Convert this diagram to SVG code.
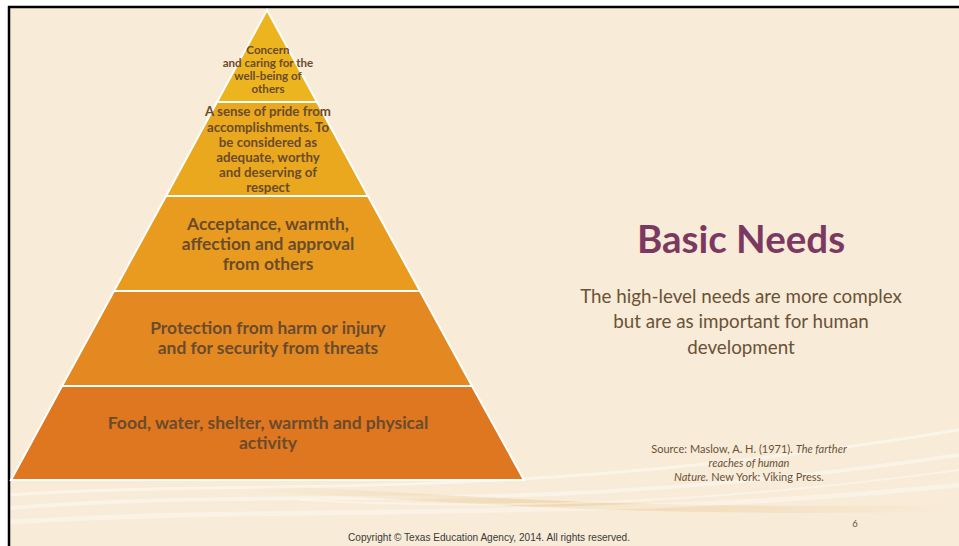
<svg xmlns="http://www.w3.org/2000/svg" width="959" height="546" viewBox="0 0 959 546">
<defs>
<style>
.lbl{font-family:Lato,"Open Sans","Liberation Sans",sans-serif;font-weight:bold;fill:#6A4B2C;text-anchor:middle}
.body{font-family:Lato,"Open Sans","Liberation Sans",sans-serif;fill:#6A5238;text-anchor:middle}
.layer{stroke:#FFFFFF;stroke-width:2}
</style>
<linearGradient id="band" x1="0" y1="0" x2="1" y2="0">
<stop offset="0" stop-color="#EBCB98" stop-opacity="0"/>
<stop offset="0.45" stop-color="#EBCB98" stop-opacity="0.6"/>
<stop offset="1" stop-color="#EBCB98" stop-opacity="0"/>
</linearGradient>
</defs>
<rect x="0" y="0" width="959" height="546" fill="#FFFFFF"/>
<rect x="9" y="7" width="950" height="539" fill="#F8EBD7"/>
<g id="swooshes" fill="none">
<path d="M9,495 C250,478 500,505 959,430" stroke="#FFFFFF" stroke-opacity="0.45" stroke-width="3"/>
<path d="M9,508 C300,485 520,520 959,455" stroke="#FFFFFF" stroke-opacity="0.4" stroke-width="4"/>
<path d="M250,488 C420,495 600,515 959,508" stroke="url(#band)" stroke-width="7"/>
<path d="M9,522 C300,505 600,522 959,485" stroke="#FFFFFF" stroke-opacity="0.35" stroke-width="5"/>
<path d="M300,500 C500,510 700,505 959,470" stroke="#FFFFFF" stroke-opacity="0.4" stroke-width="2"/>
</g>
<line x1="8" y1="7" x2="959" y2="7" stroke="#000000" stroke-width="2.5"/>
<line x1="9" y1="6" x2="9" y2="546" stroke="#000000" stroke-width="2.5"/>
<g id="layer1">
<polygon class="layer" points="267,10 317,102 217,102" fill="#ECB51F"/>
<text class="lbl" font-size="11.6"><tspan x="268" y="54">Concern</tspan><tspan x="268" y="67">and caring for the</tspan><tspan x="268" y="80">well-being of</tspan><tspan x="268" y="93">others</tspan></text>
</g>
<g id="layer2">
<polygon class="layer" points="217,102 317,102 368,196 166,196" fill="#E9A81D"/>
<text class="lbl" font-size="13.3"><tspan x="268" y="116">A sense of pride from</tspan><tspan x="268" y="132">accomplishments. To</tspan><tspan x="268" y="147">be considered as</tspan><tspan x="268" y="162">adequate, worthy</tspan><tspan x="268" y="177">and deserving of</tspan><tspan x="268" y="192">respect</tspan></text>
</g>
<g id="layer3">
<polygon class="layer" points="166,196 368,196 420,291 114,291" fill="#E89B1F"/>
<text class="lbl" font-size="17.4"><tspan x="268" y="230">Acceptance, warmth,</tspan><tspan x="268" y="250">affection and approval</tspan><tspan x="268" y="270">from others</tspan></text>
</g>
<g id="layer4">
<polygon class="layer" points="114,291 420,291 472,386 62,386" fill="#E48922"/>
<text class="lbl" font-size="17.4"><tspan x="268" y="334">Protection from harm or injury</tspan><tspan x="268" y="354">and for security from threats</tspan></text>
</g>
<g id="layer5">
<polygon class="layer" points="62,386 472,386 524,480 11,480" fill="#DF7620"/>
<text class="lbl" font-size="17.5"><tspan x="268" y="429">Food, water, shelter, warmth and physical</tspan><tspan x="268" y="449">activity</tspan></text>
</g>
<g id="title">
<text x="741" y="253" font-family="Lato,'Open Sans','Liberation Sans',sans-serif" font-weight="bold" font-size="38.5" fill="#7B3961" text-anchor="middle">Basic Needs</text>
</g>
<g id="subtitle">
<text class="body" font-size="18.8"><tspan x="741" y="303">The high-level needs are more complex</tspan><tspan x="741" y="328">but are as important for human</tspan><tspan x="741" y="354">development</tspan></text>
</g>
<g id="source">
<text class="body" font-size="11"><tspan x="749" y="453">Source: Maslow, A. H. (1971). <tspan font-style="italic">The farther</tspan></tspan><tspan x="749" y="467" font-style="italic">reaches of human</tspan><tspan x="749" y="481"><tspan font-style="italic">Nature.</tspan> New York: Viking Press.</tspan></text>
</g>
<text x="855" y="527" font-family="Lato,'Liberation Sans',sans-serif" font-size="9.5" fill="#6A5238" text-anchor="middle">6</text>
<text x="489" y="541" font-family="'Liberation Sans',Arial,sans-serif" font-size="10.1" fill="#3A3A3A" text-anchor="middle">Copyright © Texas Education Agency, 2014. All rights reserved.</text>
</svg>
